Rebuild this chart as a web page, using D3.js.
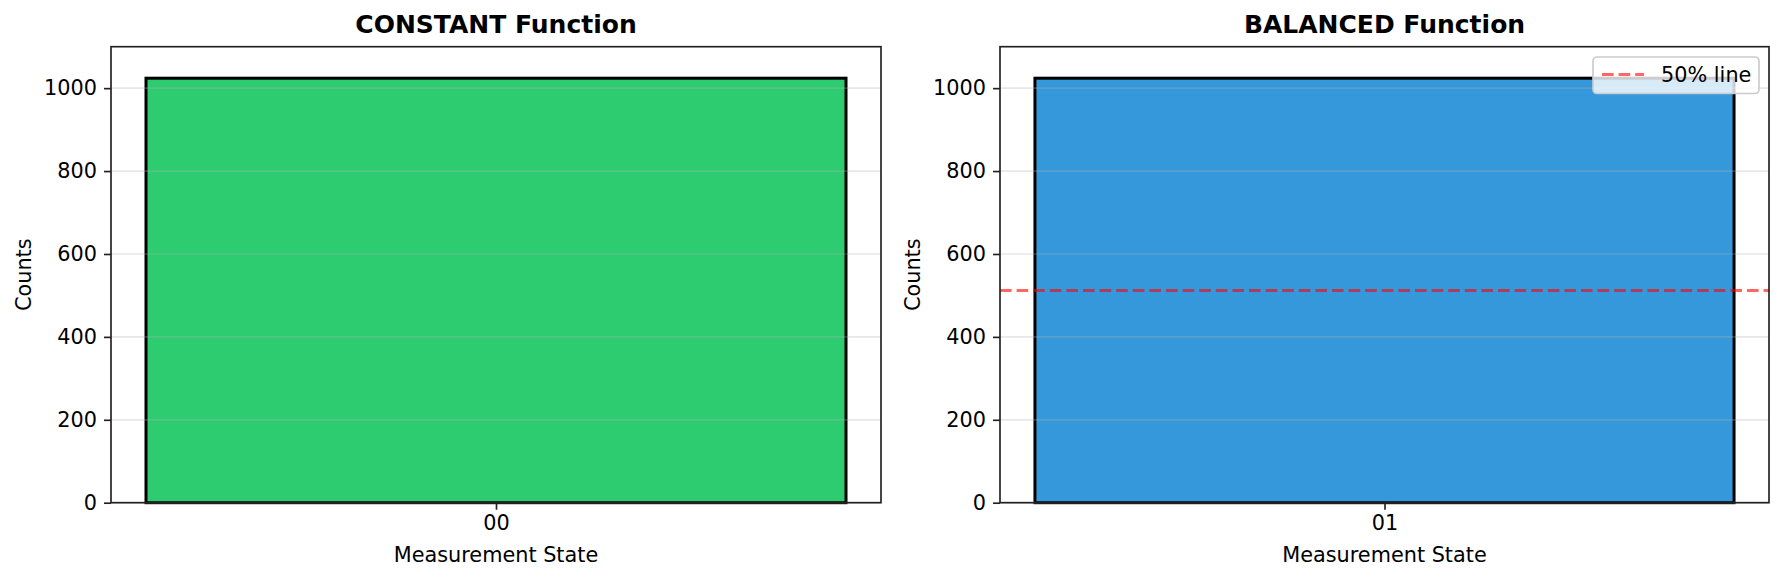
<!DOCTYPE html>
<html>
<head>
<meta charset="utf-8">
<script src="https://cdn.jsdelivr.net/npm/d3@7"></script>
<style>
  html, body { margin: 0; padding: 0; background: #fff; }
  svg { display: block; font-family: "DejaVu Sans", sans-serif; }
</style>
</head>
<body>
<svg id="chart" width="1784" height="581"></svg>
<script>
// Deutsch-Jozsa measurement histograms

const constantStates = ['00'];
const constantCounts = [1024];
const balancedStates = ['01'];
const balancedCounts = [1024];
const yTicks = [0, 200, 400, 600, 800, 1000];
const yMax = 1100;
const halfLine = 512;

const svg = d3.select('#chart');
const plotTop = 46.7, plotBottom = 502.7;
const labelSize = '20.8px';

const panels = [
    { title: 'CONSTANT Function', states: constantStates, counts: constantCounts, color: '#2ecc71', left: 111, right: 881, half: false },
    { title: 'BALANCED Function', states: balancedStates, counts: balancedCounts, color: '#3498db', left: 1000, right: 1769, half: true }
];

function drawPanel(p) {
    const n = p.states.length;
    const span = (n - 1) + 0.8;
    const x = d3.scaleLinear()
        .domain([-0.4 - 0.05 * span, n - 1 + 0.4 + 0.05 * span])
        .range([p.left, p.right]);
    const y = d3.scaleLinear().domain([0, yMax]).range([plotBottom, plotTop]);

    const g = svg.append('g');

    // bars
    g.selectAll('rect.bar')
        .data(p.counts)
        .join('rect')
        .attr('class', 'bar')
        .attr('x', (d, i) => x(i - 0.4))
        .attr('width', (d, i) => x(i + 0.4) - x(i - 0.4))
        .attr('y', d => y(d))
        .attr('height', d => y(0) - y(d))
        .attr('fill', p.color)
        .attr('stroke', '#000')
        .attr('stroke-width', 3);

    // grid on top of bars
    g.selectAll('line.grid')
        .data(yTicks)
        .join('line')
        .attr('class', 'grid')
        .attr('x1', p.left).attr('x2', p.right)
        .attr('y1', d => y(d)).attr('y2', d => y(d))
        .attr('stroke', '#b0b0b0')
        .attr('stroke-opacity', 0.3)
        .attr('stroke-width', 1.67);

    if (p.half) {
        g.append('line')
            .attr('x1', p.left).attr('x2', p.right)
            .attr('y1', y(halfLine)).attr('y2', y(halfLine))
            .attr('stroke', 'red')
            .attr('stroke-opacity', 0.6)
            .attr('stroke-width', 3)
            .attr('stroke-dasharray', '11.6,5');
    }

    // axes
    const yAxis = d3.axisLeft(y).tickValues(yTicks).tickFormat(d3.format('d')).tickSize(7).tickPadding(7);
    const ya = g.append('g').attr('transform', `translate(${p.left},0)`).call(yAxis);
    const xAxis = d3.axisBottom(x).tickValues(d3.range(n)).tickFormat(i => p.states[i]).tickSize(7).tickPadding(6);
    const xa = g.append('g').attr('transform', `translate(0,${plotBottom})`).call(xAxis);
    [ya, xa].forEach(a => {
        a.select('.domain').remove();
        a.selectAll('.tick line').attr('stroke', '#222').attr('stroke-width', 1.67);
        a.selectAll('.tick text').attr('fill', '#000').style('font-size', labelSize).style('font-family', 'DejaVu Sans');
    });

    // frame
    g.append('rect')
        .attr('x', p.left).attr('y', plotTop)
        .attr('width', p.right - p.left).attr('height', plotBottom - plotTop)
        .attr('fill', 'none')
        .attr('stroke', '#222')
        .attr('stroke-width', 1.67);

    // title and labels
    g.append('text')
        .attr('x', (p.left + p.right) / 2).attr('y', 33)
        .attr('text-anchor', 'middle')
        .style('font-size', '25px').style('font-weight', 'bold')
        .text(p.title);

    g.append('text')
        .attr('x', (p.left + p.right) / 2).attr('y', 562)
        .attr('text-anchor', 'middle')
        .style('font-size', labelSize)
        .text('Measurement State');

    g.append('text')
        .attr('transform', `translate(${p.left - 80},${(plotTop + plotBottom) / 2}) rotate(-90)`)
        .attr('text-anchor', 'middle')
        .style('font-size', labelSize)
        .text('Counts');

    if (p.half) {
        const lg = g.append('g').attr('transform', `translate(${p.right - 176},57)`);
        lg.append('rect')
            .attr('width', 166).attr('height', 36.5)
            .attr('rx', 4)
            .attr('fill', '#fff').attr('fill-opacity', 0.8)
            .attr('stroke', '#cccccc').attr('stroke-width', 1.67);
        lg.append('line')
            .attr('x1', 9).attr('x2', 51)
            .attr('y1', 17.5).attr('y2', 17.5)
            .attr('stroke', 'red').attr('stroke-opacity', 0.6)
            .attr('stroke-width', 3)
            .attr('stroke-dasharray', '11.6,5');
        lg.append('text')
            .attr('x', 68).attr('y', 25)
            .style('font-size', labelSize)
            .text('50% line');
    }
}

panels.forEach(drawPanel);
</script>
</body>
</html>
